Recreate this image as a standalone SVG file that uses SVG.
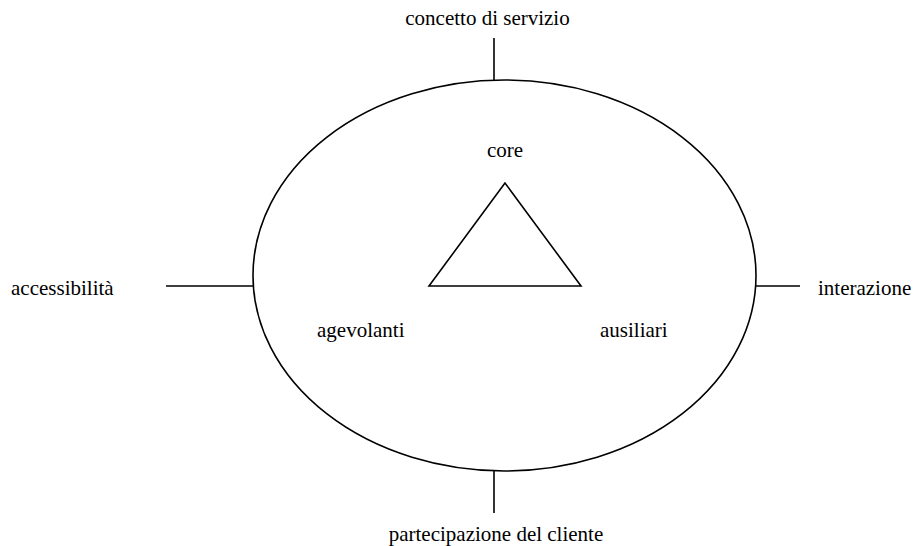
<svg xmlns="http://www.w3.org/2000/svg" width="915" height="546" viewBox="0 0 915 546">
<style>
text{font-family:'Liberation Serif','Times New Roman','DejaVu Serif',serif;font-size:21px;fill:#000}
.s{fill:none;stroke:#000;stroke-width:1.6}
</style>
<rect width="915" height="546" fill="#fff"/>
<g id="connectors">
<line class="s" x1="494" y1="38" x2="494" y2="80"/>
<line class="s" x1="494" y1="471" x2="494" y2="513"/>
<line class="s" x1="166" y1="286" x2="254" y2="286"/>
<line class="s" x1="756" y1="286" x2="800" y2="286"/>
</g>
<g id="service">
<ellipse class="s" cx="504.5" cy="275.5" rx="251.5" ry="195.5"/>
</g>
<g id="triangle">
<polygon class="s" points="505,183 429,286 581,286"/>
</g>
<g id="concetto"><text x="487.5" y="25" text-anchor="middle" font-family="Liberation Serif, serif">concetto di servizio</text></g>
<g id="partecipazione"><text x="496" y="541" text-anchor="middle" font-family="Liberation Serif, serif">partecipazione del cliente</text></g>
<g id="accessibilita"><text x="11" y="295" font-family="Liberation Serif, serif">accessibilità</text></g>
<g id="interazione"><text x="818" y="295" font-family="Liberation Serif, serif">interazione</text></g>
<g id="core"><text x="505" y="157" text-anchor="middle" font-family="Liberation Serif, serif">core</text></g>
<g id="agevolanti"><text x="317" y="337" font-family="Liberation Serif, serif">agevolanti</text></g>
<g id="ausiliari"><text x="600" y="337" font-family="Liberation Serif, serif">ausiliari</text></g>
</svg>
